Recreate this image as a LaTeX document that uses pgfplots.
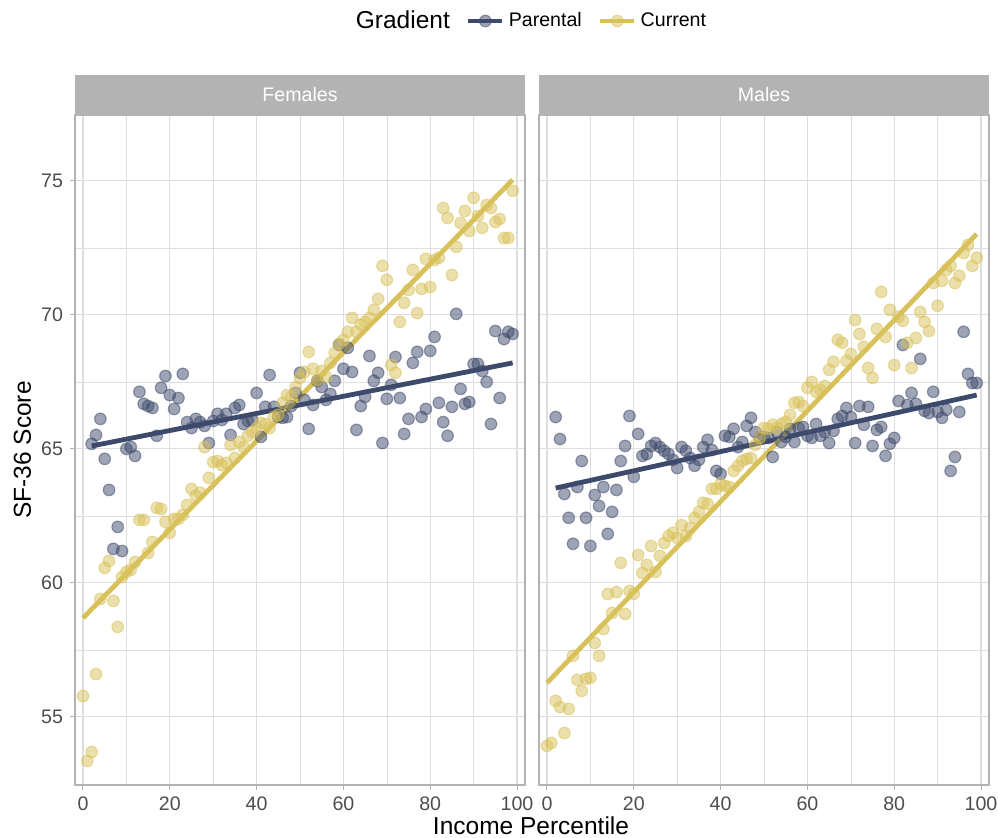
\documentclass[border=0pt]{standalone}
\usepackage{fontspec}
\setmainfont{Liberation Sans}
\usepackage{pgfplots}
\pgfplotsset{compat=1.18}
\usepackage{pgfplotstable}
\definecolor{navyc}{HTML}{3D4A6B}
\definecolor{yelc}{HTML}{D8C15A}
\definecolor{grid87}{HTML}{DEDEDE}
\definecolor{grey70}{HTML}{B3B3B3}
\definecolor{grey30}{HTML}{4D4D4D}

\pgfplotstableread{
x y
2 65.19
3 65.52
4 66.12
5 64.63
6 63.47
7 61.27
8 62.09
9 61.19
10 65.00
11 65.07
12 64.74
13 67.13
14 66.68
15 66.60
16 66.53
17 65.49
18 67.28
19 67.72
20 67.01
21 66.49
22 66.90
23 67.80
24 66.00
25 65.78
26 66.12
27 66.00
28 65.86
29 65.22
30 66.04
31 66.31
32 66.08
33 66.31
34 65.52
35 66.53
36 66.64
37 65.93
38 66.04
39 66.08
40 67.09
41 65.45
42 66.57
43 67.76
44 66.57
45 66.19
46 66.16
47 66.19
48 66.60
49 67.09
50 67.84
51 66.83
52 65.75
53 66.64
54 67.54
55 67.31
56 66.83
57 67.05
58 67.54
59 68.88
60 67.99
61 68.77
62 67.87
63 65.71
64 66.60
65 66.94
66 68.47
67 67.54
68 67.84
69 65.22
70 66.87
71 67.39
72 68.43
73 66.90
74 65.56
75 66.12
76 68.21
77 68.62
78 66.19
79 66.49
80 68.66
81 69.18
82 66.72
83 66.00
84 65.49
85 66.57
86 70.04
87 67.24
88 66.68
89 66.75
90 68.17
91 68.17
92 67.91
93 67.50
94 65.93
95 69.40
96 66.90
97 69.10
98 69.37
99 69.29
}\FemPar

\pgfplotstableread{
x y
0 55.78
1 53.36
2 53.69
3 56.60
4 59.40
5 60.56
6 60.82
7 59.33
8 58.36
9 60.22
10 60.41
11 60.49
12 60.78
13 62.35
14 62.35
15 61.12
16 61.53
17 62.80
18 62.76
19 62.28
20 61.87
21 62.39
22 62.39
23 62.54
24 62.91
25 63.51
26 63.25
27 63.36
28 65.07
29 63.92
30 64.51
31 64.55
32 64.40
33 64.48
34 65.15
35 64.66
36 65.26
37 65.07
38 65.49
39 65.63
40 65.78
41 65.97
42 65.93
43 65.78
44 66.19
45 66.27
46 66.72
47 67.01
48 66.94
49 67.31
50 67.65
51 67.87
52 68.62
53 67.99
54 67.57
55 67.91
56 67.69
57 68.21
58 68.58
59 68.92
60 69.07
61 69.37
62 69.89
63 69.37
64 69.63
65 69.74
66 69.89
67 70.19
68 70.60
69 71.83
70 71.31
71 68.13
72 67.84
73 69.74
74 70.45
75 70.93
76 71.68
77 70.07
78 70.97
79 72.09
80 71.04
81 72.05
82 72.13
83 73.99
84 73.62
85 71.49
86 72.54
87 73.43
88 73.88
89 73.13
90 74.37
91 73.69
92 73.25
93 74.10
94 73.99
95 73.47
96 73.58
97 72.87
98 72.87
99 74.63
}\FemCur

\pgfplotstableread{
x y
2 66.19
3 65.37
4 63.32
5 62.43
6 61.46
7 63.58
8 64.55
9 62.43
10 61.38
11 63.28
12 62.87
13 63.58
14 61.83
15 62.65
16 63.47
17 64.55
18 65.11
19 66.23
20 63.96
21 65.56
22 64.74
23 64.81
24 65.11
25 65.22
26 65.07
27 64.93
28 64.81
29 64.59
30 64.29
31 65.07
32 64.93
33 64.66
34 64.37
35 64.59
36 65.07
37 65.34
38 64.96
39 64.18
40 64.07
41 65.49
42 65.45
43 65.75
44 65.07
45 65.26
46 65.86
47 66.16
48 65.63
49 65.41
50 65.45
51 65.41
52 64.70
53 65.63
54 65.26
55 65.45
56 65.75
57 65.26
58 65.78
59 65.82
60 65.49
61 65.41
62 65.93
63 65.49
64 65.63
65 65.22
66 65.67
67 66.12
68 66.23
69 66.53
70 66.19
71 65.22
72 66.60
73 65.90
74 66.57
75 65.11
76 65.71
77 65.82
78 64.74
79 65.19
80 65.41
81 66.79
82 68.88
83 66.64
84 67.09
85 66.68
86 68.36
87 66.42
88 66.34
89 67.13
90 66.38
91 66.16
92 66.46
93 64.18
94 64.70
95 66.38
96 69.37
97 67.80
98 67.46
99 67.46
}\MalPar

\pgfplotstableread{
x y
0 53.92
1 54.03
2 55.60
3 55.37
4 54.40
5 55.30
6 57.28
7 56.38
8 55.97
9 56.42
10 56.46
11 57.76
12 57.28
13 58.28
14 59.59
15 58.88
16 59.66
17 60.75
18 58.84
19 59.70
20 59.59
21 61.04
22 60.37
23 60.67
24 61.38
25 60.41
26 61.01
27 61.49
28 61.75
29 61.87
30 61.68
31 62.16
32 61.75
33 62.05
34 62.43
35 62.65
36 62.99
37 62.95
38 63.51
39 63.51
40 63.69
41 63.62
42 63.58
43 64.18
44 64.37
45 64.55
46 64.63
47 64.66
48 65.15
49 65.41
50 65.78
51 65.75
52 65.90
53 65.78
54 65.93
55 66.01
56 66.27
57 66.72
58 66.75
59 66.60
60 67.28
61 67.50
62 67.13
63 67.20
64 67.35
65 67.95
66 68.25
67 69.07
68 68.96
69 68.28
70 68.54
71 69.81
72 69.29
73 68.81
74 68.02
75 67.65
76 69.48
77 70.86
78 69.18
79 70.19
80 68.13
81 69.93
82 69.78
83 68.96
84 68.02
85 69.14
86 70.11
87 69.74
88 69.40
89 71.19
90 70.34
91 71.27
92 71.68
93 71.83
94 71.19
95 71.46
96 72.31
97 72.61
98 71.83
99 72.13
}\MalCur

\pgfplotsset{
  panel/.style={
    scale only axis, width=225pt, height=335pt,
    xmin=-1.84, xmax=101.84, ymin=52.46, ymax=77.46,
    xtick={0,20,40,60,80,100}, minor xtick={10,30,50,70,90},
    ytick={55,60,65,70,75}, minor ytick={52.5,57.5,62.5,67.5,72.5,77.5},
    grid=both,
    major grid style={draw=grid87, line width=0.55pt},
    minor grid style={draw=grid87, line width=0.3pt},
    axis line style={draw=grey70, line width=0.6pt},
    tick style={draw=grey70, line width=0.5pt},
    major tick length=2.5pt, minor tick length=0pt,
    tick align=outside, xtick pos=bottom, ytick pos=left,
    ticklabel style={font=\fontsize{9.8}{11}\selectfont, text=grey30},
    /pgf/number format/assume math mode=true,
  },
  pts/.style={only marks, mark=*, mark size=2.9pt,
    mark options={draw=#1, fill=#1, fill opacity=0.5, draw opacity=0.5, line width=0.6pt},
    forget plot},
  fit/.style={draw=#1, line width=2.4pt, no marks, forget plot},
}

\begin{document}
\begin{tikzpicture}
\useasboundingbox (0,0) rectangle (499pt,-419pt);

\begin{axis}[panel, name=L, at={(37.5pt,-392.5pt)}, anchor=south west,
  legend style={at={(1.0133,1.1403)}, anchor=center, draw=none, fill=none,
    font=\fontsize{9.8}{11}\selectfont, inner sep=0pt,
    /tikz/every even column/.append style={column sep=6pt}},
  legend columns=-1, legend cell align=left]
  \addlegendimage{empty legend}
  \addlegendentry{\fontsize{12.25}{14}\selectfont Gradient}
  \addlegendimage{draw=navyc, line width=2.4pt, mark=*, mark size=2.9pt,
    mark options={draw=navyc, fill=navyc, fill opacity=0.5, draw opacity=0.5, line width=0.6pt}}
  \addlegendentry{Parental}
  \addlegendimage{draw=yelc, line width=2.4pt, mark=*, mark size=2.9pt,
    mark options={draw=yelc, fill=yelc, fill opacity=0.5, draw opacity=0.5, line width=0.6pt}}
  \addlegendentry{Current}
  \addplot[pts=navyc] table[x=x, y=y] {\FemPar};
  \addplot[pts=yelc] table[x=x, y=y] {\FemCur};
  \addplot[fit=navyc] coordinates {(2,65.11) (99,68.21)};
  \addplot[fit=yelc] coordinates {(0,58.69) (99,75.04)};
\end{axis}

\begin{axis}[panel, name=R, at={(269.5pt,-392.5pt)}, anchor=south west,
  yticklabels={}, ytick style={draw=none}]
  \addplot[pts=navyc] table[x=x, y=y] {\MalPar};
  \addplot[pts=yelc] table[x=x, y=y] {\MalCur};
  \addplot[fit=navyc] coordinates {(2,63.54) (99,67.01)};
  \addplot[fit=yelc] coordinates {(0,56.27) (99,73.02)};
\end{axis}

\fill[grey70] (L.north west) rectangle ([yshift=20pt]L.north east);
\fill[grey70] (R.north west) rectangle ([yshift=20pt]R.north east);
\node[text=white, font=\fontsize{9.8}{11}\selectfont] at ([yshift=10pt]L.north) {Females};
\node[text=white, font=\fontsize{9.8}{11}\selectfont] at ([yshift=10pt]R.north) {Males};

\node[font=\fontsize{12.25}{14}\selectfont, anchor=base] at (265.5pt,-417.5pt) {Income Percentile};
\node[font=\fontsize{12.25}{14}\selectfont, anchor=base, rotate=90] at (15.5pt,-225pt) {SF-36 Score};
\end{tikzpicture}
\end{document}
